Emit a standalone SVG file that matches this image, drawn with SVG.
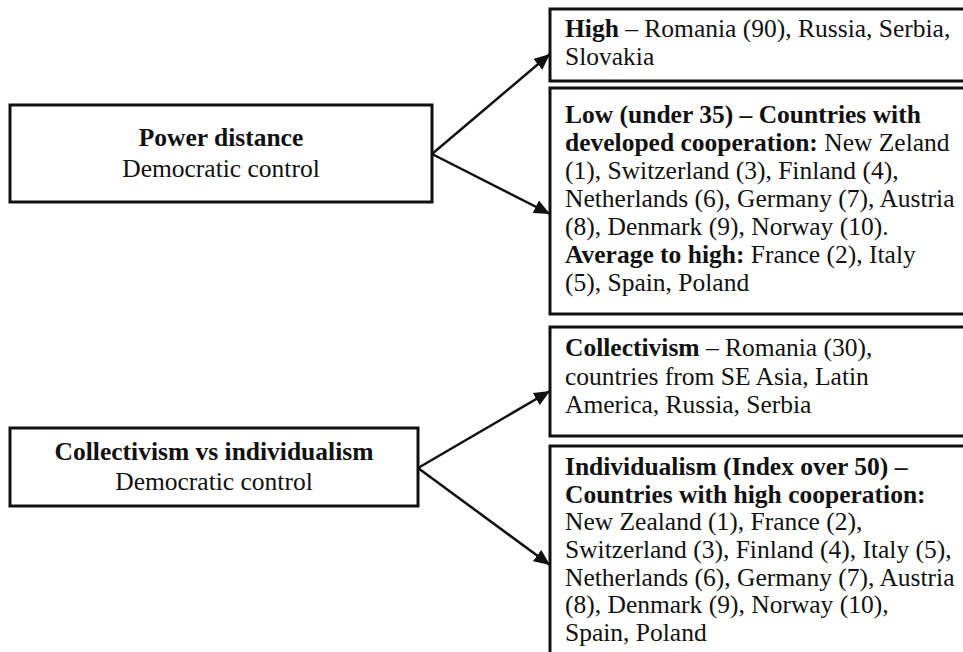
<svg xmlns="http://www.w3.org/2000/svg" width="963" height="652" viewBox="0 0 963 652">
<style>
.box{fill:#fff;stroke:#111;stroke-width:3}
.t{font-family:"Liberation Serif","Times New Roman",serif;font-size:25.5px;fill:#111}
.c{text-anchor:middle}
.b{font-weight:bold}
.con{stroke:#111;stroke-width:2.5;fill:none;marker-end:url(#ah)}
</style>
<defs>
<marker id="ah" markerUnits="userSpaceOnUse" markerWidth="18" markerHeight="14" refX="16" refY="7" orient="auto">
<path d="M0,0 L16,7 L0,14 z" fill="#111"/>
</marker>
</defs>
<rect width="963" height="652" fill="#fff"/>
<g id="connectors">
<line class="con" x1="432" y1="154" x2="550" y2="54"/>
<line class="con" x1="432" y1="154" x2="550" y2="214"/>
<line class="con" x1="418" y1="468" x2="550" y2="391"/>
<line class="con" x1="418" y1="468" x2="550" y2="565"/>
</g>
<g id="power-distance">
<rect class="box" x="10" y="105" width="422" height="97"/>
<text class="t c" x="221" y="146"><tspan class="b">Power distance</tspan></text>
<text class="t c" x="221" y="177">Democratic control</text>
</g>
<g id="pd-high">
<rect class="box" x="550" y="9" width="420" height="72"/>
<text class="t" x="565" y="37"><tspan class="b">High</tspan> – Romania (90), Russia, Serbia,</text>
<text class="t" x="565" y="65">Slovakia</text>
</g>
<g id="pd-low">
<rect class="box" x="550" y="88" width="420" height="226"/>
<text class="t" x="565" y="123"><tspan class="b">Low (under 35) – Countries with</tspan></text>
<text class="t" x="565" y="151"><tspan class="b">developed cooperation:</tspan> New Zeland</text>
<text class="t" x="565" y="179">(1), Switzerland (3), Finland (4),</text>
<text class="t" x="565" y="207">Netherlands (6), Germany (7), Austria</text>
<text class="t" x="565" y="235">(8), Denmark (9), Norway (10).</text>
<text class="t" x="565" y="263"><tspan class="b">Average to high:</tspan> France (2), Italy</text>
<text class="t" x="565" y="291">(5), Spain, Poland</text>
</g>
<g id="collectivism-individualism">
<rect class="box" x="10" y="428" width="408" height="78"/>
<text class="t c" x="214" y="460"><tspan class="b">Collectivism vs individualism</tspan></text>
<text class="t c" x="214" y="490">Democratic control</text>
</g>
<g id="collectivism">
<rect class="box" x="550" y="327" width="420" height="109"/>
<text class="t" x="565" y="356"><tspan class="b">Collectivism</tspan> – Romania (30),</text>
<text class="t" x="565" y="385">countries from SE Asia, Latin</text>
<text class="t" x="565" y="413">America, Russia, Serbia</text>
</g>
<g id="individualism">
<rect class="box" x="550" y="446" width="420" height="220"/>
<text class="t" x="565" y="475"><tspan class="b">Individualism (Index over 50) –</tspan></text>
<text class="t" x="565" y="503"><tspan class="b">Countries with high cooperation:</tspan></text>
<text class="t" x="565" y="530">New Zealand (1), France (2),</text>
<text class="t" x="565" y="558">Switzerland (3), Finland (4), Italy (5),</text>
<text class="t" x="565" y="586">Netherlands (6), Germany (7), Austria</text>
<text class="t" x="565" y="613">(8), Denmark (9), Norway (10),</text>
<text class="t" x="565" y="641">Spain, Poland</text>
</g>
</svg>
